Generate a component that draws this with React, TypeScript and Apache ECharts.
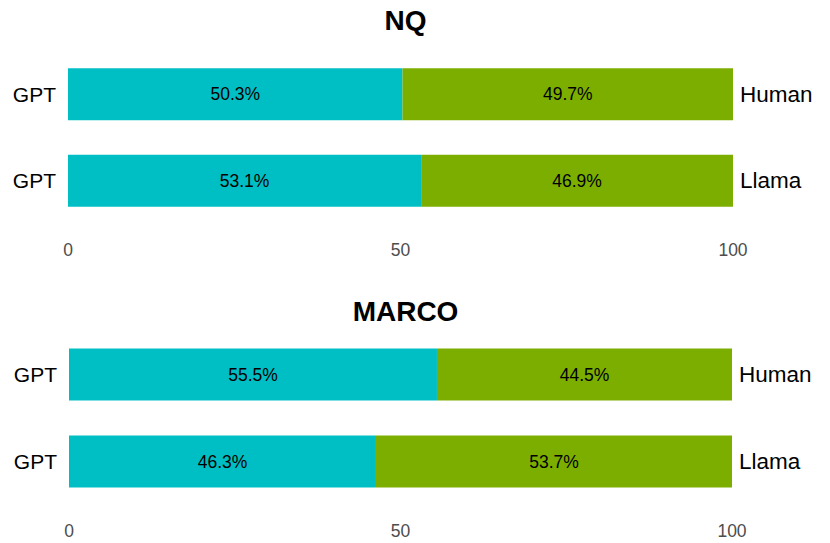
import React, { useEffect, useRef } from "react";
import * as echarts from "echarts";

const panels = ["NQ", "MARCO"];
const leftLabels = ["GPT", "GPT"];
const rightLabels = ["Human", "Llama"];
const nqGpt = [50.3, 53.1];
const nqOther = [49.7, 46.9];
const marcoGpt = [55.5, 46.3];
const marcoOther = [44.5, 53.7];
const xTicks = [0, 50, 100];

const FONT = "Liberation Sans, Arial, sans-serif";
const TEAL = "#00BFC4";
const GREEN = "#7CAE00";

export default function App() {
  const ref = useRef<HTMLDivElement>(null);
  useEffect(() => {
    if (!ref.current) return;
    const chart = echarts.init(ref.current, null, { renderer: "svg" });
    const grids = [
      { left: 68, width: 665, top: 51, height: 173 },
      { left: 69, width: 663, top: 331, height: 174 },
    ];
    const xAxis = grids.map((_, i) => ({
      type: "value",
      gridIndex: i,
      min: 0,
      max: 100,
      interval: 50,
      axisLine: { show: false },
      axisTick: { show: false },
      splitLine: { show: false },
      axisLabel: {
        color: "#4D4D4D",
        fontSize: 17.5,
        fontFamily: FONT,
        margin: 17,
        formatter: (v: number) => (xTicks.includes(v) ? String(v) : ""),
      },
    }));
    const yAxis: any[] = [];
    grids.forEach((_, i) => {
      yAxis.push({
        type: "category",
        gridIndex: i,
        position: "left",
        inverse: true,
        data: leftLabels,
        axisLine: { show: false },
        axisTick: { show: false },
        axisLabel: { color: "#000", fontSize: 21, fontFamily: FONT, margin: 12 },
      });
      yAxis.push({
        type: "category",
        gridIndex: i,
        position: "right",
        inverse: true,
        data: rightLabels,
        axisLine: { show: false },
        axisTick: { show: false },
        axisLabel: { color: "#000", fontSize: 22.5, fontFamily: FONT, margin: 7 },
      });
    });
    const label = {
      show: true,
      position: "inside",
      color: "#000",
      fontSize: 17.5,
      fontFamily: FONT,
      formatter: (p: any) => p.value.toFixed(1) + "%",
    };
    const mk = (data: number[], gi: number, color: string, stack: string) => ({
      type: "bar",
      xAxisIndex: gi,
      yAxisIndex: gi * 2,
      stack,
      data,
      barWidth: 52,
      itemStyle: { color },
      label,
    });
    chart.setOption({
      animation: false,
      backgroundColor: "#fff",
      title: [
        {
          text: panels[0],
          left: 400.5,
          top: 1,
          textAlign: "center",
          textStyle: { fontSize: 28, fontWeight: "bold", color: "#000", fontFamily: FONT },
        },
        {
          text: panels[1],
          left: 400.5,
          top: 292,
          textAlign: "center",
          textStyle: { fontSize: 28, fontWeight: "bold", color: "#000", fontFamily: FONT },
        },
      ],
      grid: grids,
      xAxis,
      yAxis,
      series: [
        mk(nqGpt, 0, TEAL, "a"),
        mk(nqOther, 0, GREEN, "a"),
        mk(marcoGpt, 1, TEAL, "b"),
        mk(marcoOther, 1, GREEN, "b"),
      ],
    });
    return () => chart.dispose();
  }, []);
  return (
    <div
      ref={ref}
      style={{ position: "absolute", left: 0, top: 0, width: 830, height: 543 }}
    />
  );
}
